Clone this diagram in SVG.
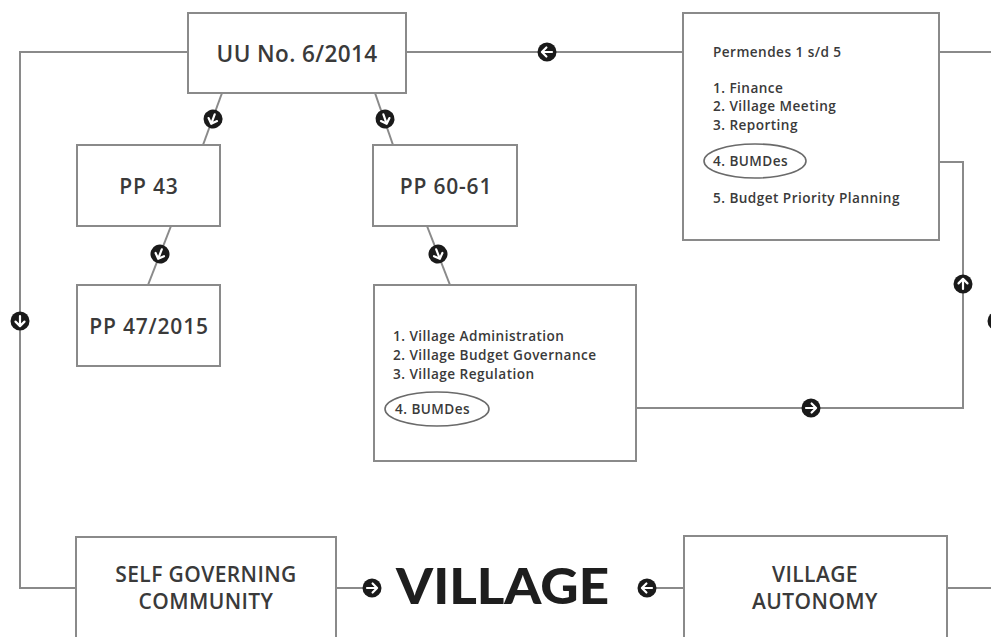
<svg xmlns="http://www.w3.org/2000/svg" width="991" height="637" viewBox="0 0 991 637">
<style>
.box{fill:#fff;stroke:#8a8a8a;stroke-width:2}
.ln{fill:none;stroke:#8a8a8a;stroke-width:2}
.t{font-family:"Open Sans","Liberation Sans",sans-serif;font-weight:600;fill:#3a3a3a}
.big{font-size:21px;text-anchor:middle;letter-spacing:0.4px}
.mid{font-size:21px;text-anchor:middle;letter-spacing:0.8px}
.sm{font-size:13.6px;letter-spacing:0.45px}
.vil{font-family:"Lato","Open Sans","Liberation Sans",sans-serif;font-weight:900;font-size:50px;fill:#1e1e1e}
.ell{fill:none;stroke:#6a6a6a;stroke-width:1.6}
</style>
<defs>
<g id="arr">
<circle r="9.5" fill="#1a1a1a"/>
<path d="M-5,0 H5 M0.6,-4.5 L5.1,0 L0.6,4.5" fill="none" stroke="#fff" stroke-width="2.2" stroke-linecap="round" stroke-linejoin="round"/>
</g>
</defs>
<rect width="991" height="637" fill="#fff"/>
<g id="connectors">
<polyline class="ln" points="188,52 20,52 20,588 76,588"/>
<line class="ln" x1="406" y1="52" x2="683" y2="52"/>
<line class="ln" x1="939" y1="52" x2="991" y2="52"/>
<line class="ln" x1="222" y1="93" x2="203" y2="145"/>
<line class="ln" x1="375" y1="93" x2="393" y2="145"/>
<line class="ln" x1="171" y1="226" x2="148" y2="285"/>
<line class="ln" x1="427" y1="226" x2="450" y2="285"/>
<polyline class="ln" points="806,162 963,162 963,408 488,408"/>
<line class="ln" x1="336" y1="588" x2="372" y2="588"/>
<line class="ln" x1="647" y1="588" x2="684" y2="588"/>
<line class="ln" x1="947" y1="588" x2="991" y2="588"/>
<use href="#arr" transform="translate(547,52) rotate(180)"/>
<use href="#arr" transform="translate(884,162) rotate(180)"/>
<use href="#arr" transform="translate(963,284) rotate(-90)"/>
<use href="#arr" transform="translate(811,408)"/>
<use href="#arr" transform="translate(20,321) rotate(90)"/>
<use href="#arr" transform="translate(997,321) rotate(90)"/>
<use href="#arr" transform="translate(372,588)"/>
<use href="#arr" transform="translate(647,588) rotate(180)"/>
<use href="#arr" transform="translate(213,119) rotate(110)"/>
<use href="#arr" transform="translate(385,119) rotate(71)"/>
<use href="#arr" transform="translate(160,254) rotate(111)"/>
<use href="#arr" transform="translate(438,254) rotate(69)"/>
</g>
<g id="uu">
<rect class="box" x="188" y="13" width="218" height="80"/>
<text class="t big" x="297" y="62" style="font-size:22.5px">UU No. 6/2014</text>
</g>
<g id="pp43">
<rect class="box" x="77" y="145" width="143" height="81"/>
<text class="t mid" x="149" y="194">PP 43</text>
</g>
<g id="pp47">
<rect class="box" x="77" y="285" width="143" height="81"/>
<text class="t mid" x="149" y="334">PP 47/2015</text>
</g>
<g id="pp60">
<rect class="box" x="373" y="145" width="144" height="81"/>
<text class="t mid" x="446" y="194">PP 60-61</text>
</g>
<g id="pplist">
<rect class="box" x="374" y="285" width="262" height="176"/>
<text class="t sm" x="393" y="341">1. Village Administration</text>
<text class="t sm" x="393" y="360">2. Village Budget Governance</text>
<text class="t sm" x="393" y="379">3. Village Regulation</text>
<ellipse class="ell" cx="437" cy="409" rx="52" ry="17"/>
<text class="t sm" x="395" y="414">4. BUMDes</text>
</g>
<g id="permendes">
<rect class="box" x="683" y="13" width="256" height="227"/>
<text class="t sm" x="713" y="57">Permendes 1 s/d 5</text>
<text class="t sm" x="713" y="93">1. Finance</text>
<text class="t sm" x="713" y="111">2. Village Meeting</text>
<text class="t sm" x="713" y="130">3. Reporting</text>
<ellipse class="ell" cx="755" cy="161" rx="51" ry="17"/>
<text class="t sm" x="713" y="166">4. BUMDes</text>
<text class="t sm" x="713" y="203">5. Budget Priority Planning</text>
</g>
<g id="selfgov">
<rect class="box" x="76" y="537" width="260" height="110"/>
<text class="t big" x="206" y="582">SELF GOVERNING</text>
<text class="t big" x="206" y="609">COMMUNITY</text>
</g>
<g id="village">
<text class="vil" x="396" y="604" textLength="213" lengthAdjust="spacingAndGlyphs">VILLAGE</text>
</g>
<g id="autonomy">
<rect class="box" x="684" y="536" width="263" height="110"/>
<text class="t big" x="815" y="582">VILLAGE</text>
<text class="t big" x="815" y="609">AUTONOMY</text>
</g>
</svg>
